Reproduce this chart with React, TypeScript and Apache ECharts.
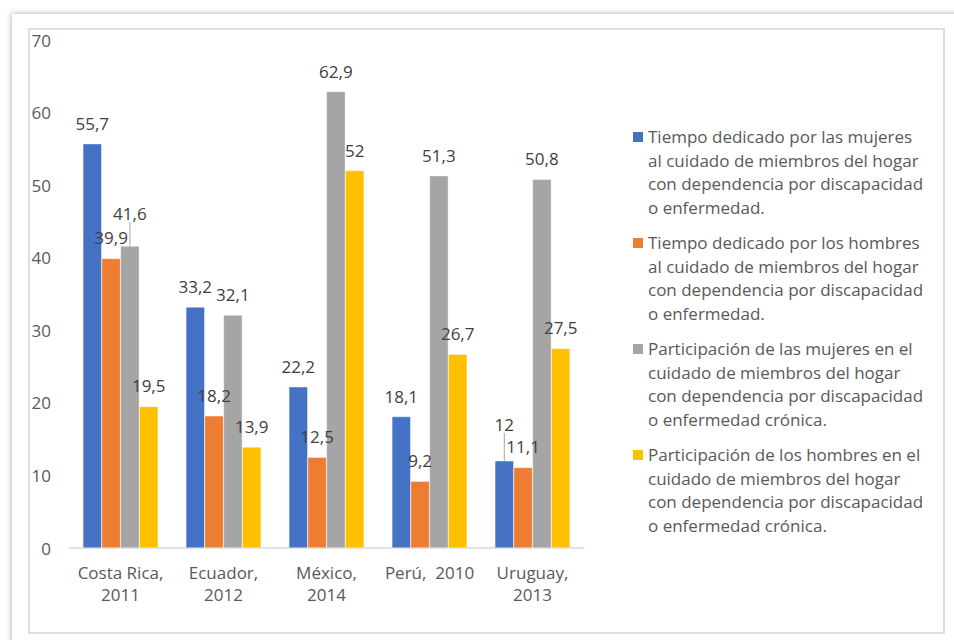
import React, { useEffect, useRef } from "react";
import * as echarts from "echarts";

const categories = ["Costa Rica,\n2011", "Ecuador,\n2012", "México,\n2014", "Perú,  2010", "Uruguay,\n2013"];
const seriesNames = [
  "Tiempo dedicado por las mujeres\nal cuidado de miembros del hogar\ncon dependencia por discapacidad\no enfermedad.",
  "Tiempo dedicado por los hombres\nal cuidado de miembros del hogar\ncon dependencia por discapacidad\no enfermedad.",
  "Participación de las mujeres en el\ncuidado de miembros del hogar\ncon dependencia por discapacidad\no enfermedad crónica.",
  "Participación de los hombres en el\ncuidado de miembros del hogar\ncon dependencia por discapacidad\no enfermedad crónica.",
];
const mujeresTiempo = [55.7, 33.2, 22.2, 18.1, 12];
const hombresTiempo = [39.9, 18.2, 12.5, 9.2, 11.1];
const mujeresParticipacion = [41.6, 32.1, 62.9, 51.3, 50.8];
const hombresParticipacion = [19.5, 13.9, 52, 26.7, 27.5];
const seriesValues = [mujeresTiempo, hombresTiempo, mujeresParticipacion, hombresParticipacion];
const colors = ["#4472C4", "#ED7D31", "#A5A5A5", "#FFC000"];
const yTicks = [0, 10, 20, 30, 40, 50, 60, 70];

// label nudges (series index, data index, dy) for labels lifted with a leader line
const labelNudges: Array<[number, number, number]> = [
  [2, 0, -12],
  [0, 4, -16],
];

const FONT = "'Open Sans', 'Noto Sans', sans-serif";

export default function App() {
  const ref = useRef<HTMLDivElement>(null);
  useEffect(() => {
    if (!ref.current) return;
    const chart = echarts.init(ref.current, undefined, { renderer: "svg" });

    const legendGraphics: any[] = [];
    const legendX = 633;
    const legendTop0 = 137;
    const itemStep = 106;
    const lineH = 23.4;
    seriesNames.forEach((name, i) => {
      const y0 = legendTop0 + i * itemStep;
      legendGraphics.push({
        type: "rect",
        shape: { x: legendX, y: y0 - 5, width: 10, height: 10 },
        style: { fill: colors[i] },
      });
      legendGraphics.push({
        type: "text",
        x: legendX + 15,
        y: y0 - lineH / 2,
        style: {
          text: name,
          fill: "#595959",
          font: `17px ${FONT}`,
          lineHeight: lineH,
          textVerticalAlign: "top",
        },
      });
    });

    chart.setOption({
      animation: false,
      grid: { left: 69, top: 40, width: 515, height: 508, containLabel: false },
      xAxis: {
        type: "category",
        data: categories,
        axisLine: { show: true, lineStyle: { color: "#d9d9d9", width: 1.5 } },
        axisTick: { show: false },
        axisLabel: {
          color: "#595959",
          fontSize: 17,
          fontFamily: FONT,
          lineHeight: 22,
          margin: 13,
          interval: 0,
        },
      },
      yAxis: {
        type: "value",
        min: yTicks[0],
        max: yTicks[yTicks.length - 1],
        interval: 10,
        axisLine: { show: false },
        axisTick: { show: false },
        splitLine: { show: false },
        axisLabel: {
          color: "#595959",
          fontSize: 17,
          fontFamily: FONT,
          margin: 18,
        },
      },
      series: seriesValues.map((vals, si) => ({
        type: "bar",
        name: seriesNames[si],
        data: vals.map((v, di) => {
          const nudged = labelNudges.some((t) => t[0] === si && t[1] === di);
          return { value: v, labelLine: { show: nudged } };
        }),
        barGap: "0%",
        barCategoryGap: "27%",
        itemStyle: { color: colors[si], borderColor: "#ffffff", borderWidth: 0.4 },
        label: {
          show: true,
          position: "top",
          distance: 12,
          color: "#404040",
          fontSize: 17,
          fontFamily: FONT,
          formatter: (p: any) => String(p.value).replace(".", ","),
        },
        labelLine: { show: false, lineStyle: { color: "#a6a6a6", width: 1 } },
        labelLayout: (params: any) => {
          const n = labelNudges.find((t) => t[0] === si && t[1] === params.dataIndex);
          return n ? { dy: n[2] } : {};
        },
      })),
      graphic: legendGraphics,
    });
    return () => chart.dispose();
  }, []);

  return (
    <div style={{ position: "fixed", left: 0, top: 0, width: 954, height: 640, overflow: "hidden", background: "#fff" }}>
      <div
        style={{
          position: "absolute",
          left: 12,
          top: 14,
          width: 980,
          height: 660,
          background: "#fff",
          boxShadow: "0 0 6px rgba(0,0,0,0.35)",
        }}
      />
      <div
        style={{
          position: "absolute",
          left: 28,
          top: 28,
          width: 913,
          height: 602,
          border: "2px solid #dedede",
        }}
      />
      <div ref={ref} style={{ position: "absolute", left: 0, top: 0, width: 954, height: 640 }} />
    </div>
  );
}
